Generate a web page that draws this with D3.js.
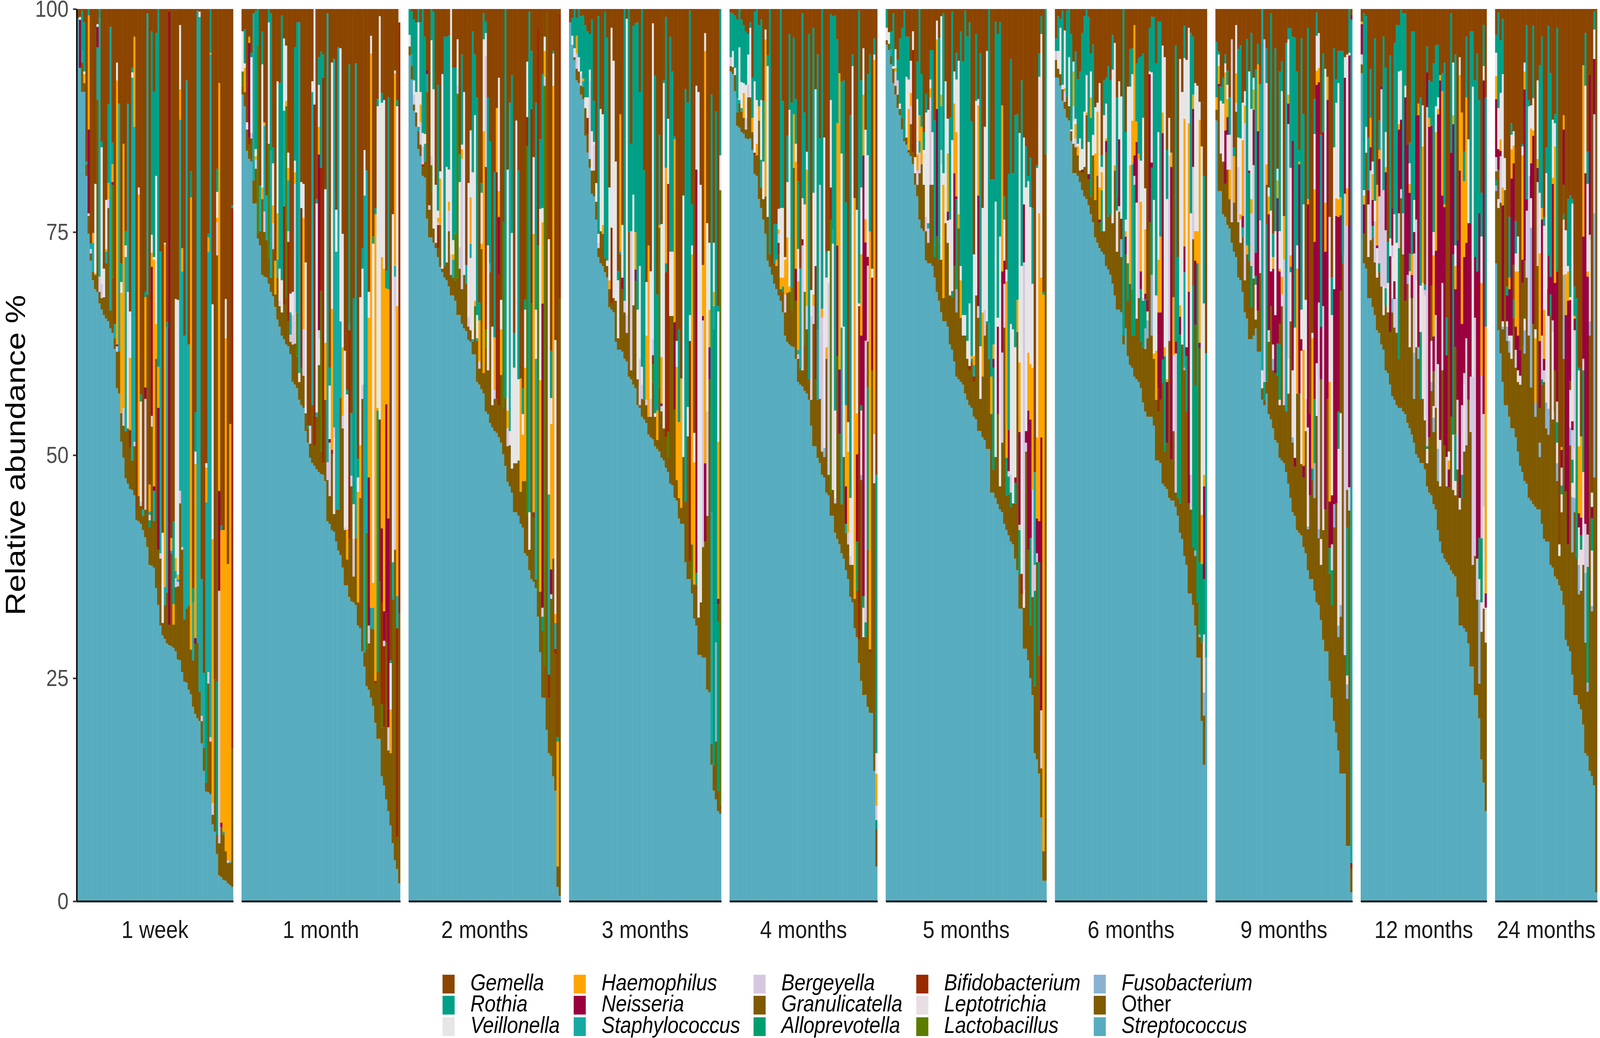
<!DOCTYPE html>
<html><head><meta charset="utf-8">
<script src="https://cdn.jsdelivr.net/npm/d3@7"></script>
<style>html,body{margin:0;padding:0;background:#fff;overflow:hidden}svg{display:block;width:100vw;height:100vh}</style>
</head><body>
<script>
// ---- DATA ----
// stacking order, bottom -> top
const taxa = ["Streptococcus","Other","Fusobacterium","Lactobacillus","Leptotrichia","Bifidobacterium","Alloprevotella","Granulicatella","Bergeyella","Staphylococcus","Neisseria","Haemophilus","Veillonella","Rothia","Gemella"];
const codes = {Sr:"Streptococcus",Ot:"Other",Fu:"Fusobacterium",La:"Lactobacillus",Le:"Leptotrichia",Bi:"Bifidobacterium",Al:"Alloprevotella",Gr:"Granulicatella",Be:"Bergeyella",St:"Staphylococcus",Ne:"Neisseria",Ha:"Haemophilus",Ve:"Veillonella",Ro:"Rothia",Ge:"Gemella"};
const legendOrder = ["Gemella","Rothia","Veillonella","Haemophilus","Neisseria","Staphylococcus","Bergeyella","Granulicatella","Alloprevotella","Bifidobacterium","Leptotrichia","Lactobacillus","Fusobacterium","Other","Streptococcus"];
const timepoints = ["1 week","1 month","2 months","3 months","4 months","5 months","6 months","9 months","12 months","24 months"];
const yTicks = [0,25,50,75,100];

// one string per sample (left to right), values in % : code+value
const w1 = ["Sr99 Ge1","Sr93.4 Ne5.4 Ve0.3 Ge0.9","Sr90.7 Ot3.3 St1.3 Ro4.5 Ge0.2","Sr90.7 Ot1 Ha1 Ve0.3 Ro5.5 Ge1.5","Sr81.3 Ot1.3 St0.3 Ge17.1","Sr74.8 Ot2 Be0.3 Ne9.4 Ha12.8 Ro0.7","Sr71.8 Ot0.8 Be0.5 St0.6 Ge26.3","Sr69.6 Ot1 St3.2 Ha1.1 Ge25.1","Sr68.6 Ot1.6 Ha0.2 Ve10 Ge19.6","Sr68.3 Ot21.5 St5.9 Ne2.3 Ve0.3 Ge1.7","Sr67 Ot1.3 Be1.7 St29 Ro1","Sr66.3 Ot1.3 Be1.6 Ve15.3 Ro0.6 Ge14.9","Sr65.7 Ot2 Ve3.2 Ge29.1","Sr65.3 Ot6.2 St1.3 Ha0.3 Ve5.5 Ge21.4","Sr65 Ot12.7 Be1 Ha1.8 Ro8.8 Ge10.7","Sr64.2 Ot2 St31.8 Ge2","Sr63.7 Ot6.2 La10.4 Ne0.3 Ha2 Ro2.4 Ge15","Sr61.9 Ot1.2 St1.6 Ge35.3","Sr57.5 Ot4.1 Be0.6 Ne0.2 Ha29.6 Ve2 Ge6","Sr56.9 Ot4.7 St27.8 Ge10.6","Sr51.5 Ot3.2 Ha13.5 Ve1.2 Ro2.1 Ge28.5","Sr49.7 Ot3.6 Be2 Ha29.6 Ge15.1","Sr47.4 Ot5.3 St19.5 Ve1.3 Ro1.6 Ge24.9","Sr46.8 Ot6.2 Le15.3 St21.1 Ge10.6","Sr46.2 Ot4.6 Bi2 Ha8.1 Ve5.2 Ge33.9","Sr46.1 Ot3.3 St42.9 Ve0.6 Ro0.5 Ge6.6","Sr45.5 Ot5.5 Be0.5 St35.3 Ha10.1 Ge3.1","Sr42.7 Ot1.3 Ge56","Sr42.6 Ot2.8 Ha33.8 Ve0.8 Ge20","Sr42.3 Ot2 Be0.5 Ve11.2 Ro0.8 Ge43.2","Sr41.6 Ot1.6 St0.7 Ge56.1","Sr40.8 Ot3.1 Be12.4 Ne1.3 Ha10.1 Ro0.6 Ge31.7","Sr39.7 Ot28.3 St31.5 Ge0.5","Sr37.7 Ot4.2 Al0.8 Be0.6 St0.4 Ha3 Ge53.3","Sr37.6 Ot15.6 Be1.2 Ne16.7 Ha1.6 Ve2 Ro22.8 Ge2.5","Sr37.4 Ot5.2 St3.4 Ne0.5 Ha25.4 Ve0.3 Ro18.5 Ge9.3","Sr35.1 Ot25.7 Ha3.9 Ve16.6 Ro16 Ge2.7","Sr33.2 Ot6.2 Ne15.9 Ha4.6 Ro40.1","Sr30.9 Ot7.5 Be0.6 St33.8 Ge27.2","Sr29.8 Ot1.4 Ve10.1 Ge58.7","Sr29.4 Ot3.8 St2 Ha38.4 Ve0.2 Ge26.2","Sr28.9 Ot5.7 St29.7 Ro0.6 Ge35.1","Sr28.7 Ot2.3 Ne68.7 Ge0.3","Sr28.6 Ot10.4 St0.3 Ha1.4 Ge59.3","Sr28.4 Ot2.6 Ha2.3 Ro9.3 Ge57.4","Sr28 Ot7.2 Be1 St0.8 Ha1.5 Ve29 Ge32.5","Sr27.1 Ot8.2 Be0.5 St0.3 Ha0.5 Ve30.8 Ge32.6","Sr27 Ot17.6 Be1.4 St41.6 Ha3.4 Ve7.2 Ge1.8","Sr25.7 Ot13.7 Be0.3 St30.9 Ha2.6 Ge26.8","Sr24.6 Ot7 St31.8 Ge36.6","Sr24.5 Ot8.3 St59.2 Ge8","Sr23.7 Ot9.4 St29.3 Ge37.6","Sr23.2 Ot5 Ha50.7 Ro2.9 Ge18.2","Sr21.8 Ot5.2 St6.5 Ro1.6 Ge64.9","Sr21 Ot7.9 Ne0.6 Ha19.5 Ve1.4 Ro4.4 Ge45.2","Sr20.5 Ot8.5 St70.8 Ge0.2","Sr20.2 Ot3.3 St75.6 Ve0.6 Ge0.3","Sr17.7 Ot2.5 Be0.6 St15.3 Ge63.9","Sr14.6 Ot2.6 St8.4 Ge74.4","Sr12.3 Ot1 Al12.4 St19 Ha3.9 Ve0.5 Ge50.9","Sr12.2 Ot12.2 Be1.3 St47.1 Ha1.6 Ro0.4 Ge25.2","Sr12 Ot5.9 Be0.5 St76.5 Ha0.2 Ro4.9","Sr8.6 Ot1.1 Be1.3 Ha29.6 Ve26.3 Ge33.1","Sr7.8 Ot17.1 Ge75.1","Sr5.3 Ot2.1 Al17.2 Gr47.8 Be3.7 Ha0.5 Ve2.9 Ro2.6 Ge17.9","Sr2.9 Ot3.6 Be28.3 Ne11.2 Ha45.7 Ge8.3","Sr2.7 Ot5.6 Ne0.5 Ha32.8 Ro0.5 Ge57.9","Sr2.4 Ot5.1 St0.3 Ha33.8 Ge58.4","Sr2.3 Ot3.3 Ha57.5 Ve4.4 Ge32.5","Sr2 Ot2.3 Be0.3 Ha33.2 Ge62.2","Sr1.8 Ot2.5 St0.1 Ha49.1 Ge46.5","Sr1.6 Ot15.6 Bi60.5 St0.3 Ge22"];

const m1 = ["Sr90.4 Ot1 La1.6 Ve4.5 Ge2.5","Sr89.1 Ot1.6 Ha2.7 Ve0.5 Ro3.8 Ge2.3","Sr84.1 Ot2.4 Ve0.8 Ge12.7","Sr83.2 Ot1.6 Bi0.8 Ne10.6 Ha0.7 Ge3.1","Sr82.9 Ot2.6 Be0.6 Ve8.5 Ro0.5 Ge4.9","Sr78.2 Ot2.6 St18.7 Ge0.5","Sr78.2 Ot3.9 Be1 Ha0.4 Ve0.8 Ro15.5 Ge0.2","Sr74.3 La21.1 Ot0.6 Ro4","Sr73.5 Ot1.6 St5.1 Ge19.8","Sr70.2 Ot8.5 Ha1.3 Ve13.8 Ro3.7 Ge2.5","Sr70 Ot5 Be2.3 St9.6 Ha0.4 Ge12.7","Sr69.9 Ot4.2 St5 Ge20.9","Sr69.2 Ot2.9 La12.8 Ve13.6 Ro1.5","Sr68.3 Ot1.6 St14.2 Ro15.4 Ge0.5","Sr67.8 Ot5.3 Be2.9 Ha2 Ve4.7 Ro1.8 Ge15.5","Sr66.6 Ot1.4 Ha3.8 Ge28.2","Sr65.2 Ot4.7 St2 Ha5.2 Ve14.8 Ge8.1","Sr64.4 Ot2.3 Be0.6 Ve3.6 Ro20.8 Ge8.3","Sr63.4 Ot2.6 Ve3.6 Ro29.7 Ge0.7","Sr63 Ot3.9 Bi11 St10.7 Ve8.1 Ge3.3","Sr62.4 Ot5.2 La21.5 Ha0.6 Ve6.2 Ge4.1","Sr62.2 Ot2.8 Bi8.9 Be1.2 St5.7 Ha1.4 Ve1.7 Ge16.1","Sr61.3 Ot1.4 Be0.8 St2.5 Ve2.1 Ge31.9","Sr58.2 Ot4.2 Be3.3 Ve2.6 Ge31.7","Sr57.9 Ot4.6 Be17.9 Ha1.3 Ve1.3 Ro12.7 Ge4.3","Sr57.5 Ot3.6 La4.9 Ro32.5 Ge1.5","Sr56.2 Ot2 Le1 St39.3 Ge1.5","Sr55.6 Ot4.2 Bi17.9 Ve2.9 Ge19.4","Sr55.3 Ot3.6 Be5.2 Ha12.5 Ve3.8 Ge19.6","Sr52.7 Ot2 Ve16.9 Ge28.4","Sr51.4 Ot1.6 Al0.3 Ge46.7","Sr49.7 Ot1.6 Be2 Ge46.7","Sr49.1 Ot6.5 St35.1 Ve1.2 Ge8.1","Sr48.8 Ot2.3 Bi38.2 Ve10.7","Sr48.4 Ot5.9 St0.5 Ve23.4 Ro0.5 Ge21.3","Sr48.1 Ot12 Le2.9 Be1 Ne19.7 Ha3.1 Ve4.7 Ro3.1 Ge5.4","Sr47.9 Ot2.6 La17.9 Bi13.8 Ro13 Ge4.8","Sr47.8 Ot1.3 Bi43.2 Ro2.6 Ge5.1","Sr47.1 Ot9.1 Ha6.4 Ve17.2 Ge20.2","Sr42.6 Ot4.6 Be2 St50.3 Ge0.5","Sr42.3 Ot3.1 Be6 Ne0.4 Ve6 Ro2 Ge40.2","Sr41.6 Ot8.5 Bi0.5 Ha15.8 Ve27.6 Ge6","Sr41.4 Ot2 Le8.5 Be1.2 St41.3 Ge5.6","Sr40.3 Ot3.6 St28.9 Ve4.7 Ge22.5","Sr39.3 Ot4.6 St51.8 Ge4.3","Sr38.8 Ot17.6 St8.6 Ve30.6 Ge4.4","Sr37.4 Ot15.6 Be1.4 Ha7.7 Ve12.7 Ge25.2","Sr35.4 Ot6.2 Be0.3 Ve19.8 Ge38.3","Sr35.4 Ot2.9 Ha3.4 Ve15.1 Ro0.5 Ge42.7","Sr34.1 Ot6.5 Bi23.4 St0.7 Ro29.1 Ge6.2","Sr33.6 Ot12.9 Be1.2 St7 Ge45.3","Sr33.5 Ot2.9 Be4.2 Ve3.9 Ro23.1 Ge32.4","Sr33.2 Ot7.5 St53.2 Ge6.1","Sr30.9 Ot2.6 Ha12.4 Ve1.6 Ro2.1 Ge50.4","Sr30.6 Ot14.6 Ha5.9 Ve16.6 Ge32.3","Sr28 Ot28.3 Be1.6 Ve13 Ro2.3 Ge26.8","Sr26.3 Ot1.6 St51.2 Ve5.1 Ge15.8","Sr24.1 Ot4.2 La13 St40.6 Ge18.1","Sr23.7 Ot5.2 Be2 Ne16.6 Ha17.9 Ve2.9 Ge31.7","Sr22.8 Ot7.8 St2.3 Ha62.1 Ve2 Ge3","Sr21.9 Ot8.6 St2.4 Ha2.8 Ve38 Ro0.8 Ge25.5","Sr20 Ot4.4 Bi0.3 Ha52.3 Ro0.7 Ge22.3","Sr18.2 Ot7.5 Al29.3 Ha0.3 Ve33.8 Ro0.8 Ge10.1","Sr18.2 Ot17.6 Bi18.2 Ve45.2 Ge0.8","Sr14 Ot5.5 La2.6 Bi11.4 Ne8.3 Ha30.4 Ve17.3 Ro1.1 Ge9.4","Sr13 Ot6.5 Bi9.1 Be0.6 Ne3.3 Ha38.4 Ve18.9 Ge10.2","Sr11.4 Ot17.6 Bi3.3 Ne23.4 Ha13 Ro2 Ge29.3","Sr10.1 Ot6.8 Be2.6 Ne23.4 Ha25.7 Ro21.5 Ge9.9","Sr8.5 Ot8.1 Ha4.9 Ve5.2 Ro0.3 Ge73","Sr6.5 Ot27.3 St4.2 Ve39 Ge23","Sr4.6 Ot34.8 Be30.6 St1.2 Ha21.6 Ve0.3 Ge6.9","Sr3.6 Ot3.6 Bi23.4 St3.6 Ha32.5 Ve22.4 Ro0.7 Ge10.2","Sr2 Ot30.2 Bi66.3 Ve1.5"];

const m2 = ["Sr94.8 Ot1 Ve1.3 Ro2.9","Sr92.1 Ot1.5 St1.3 Ro4.8 Ge0.3","Sr88.6 Ot0.7 Be1.1 Ve1.6 Ro6.8 Ge1.2","Sr86.8 Ot1.6 Ve2.3 Ro7.8 Ge1.5","Sr84.3 Ot2 St0.5 Ve11.7 Ro1.5","Sr83.5 Ot1.3 Be2.5 Ha2 Ve1.4 Ro7.8 Ge1.5","Sr81.3 Ot1 Bi0.3 Be2 Ve1.5 Ro13.9","Sr81.1 Ot1.8 St2 Ve1.1 Ro10.9 Ge3.1","Sr76.5 Ot14.2 St2 Ne0.5 Ge6.8","Sr74.4 Ot3.1 Be0.5 Ge22","Sr74.4 Ot5.2 La2.9 Be1 Ve13 Ro3.5","Sr73.8 Ot1.6 Ve15.6 Ro8.7 Ge0.3","Sr73.2 Ot0.6 Ve6.5 Ge19.7","Sr72.2 Ot1 Bi2.6 Be0.3 Ha0.5 Ve0.8 Ro14.1 Ge8.5","Sr71.1 Ot4.7 Ha5.2 Ve0.8 Ge18.2","Sr70.5 Ot0.4 Ve21.8 Ge7.3","Sr69.9 Ot1.3 Ro25.7 Ge3.1","Sr69.6 Ot2 Ve10.7 Ro14.6 Ge3.1","Sr68.9 Ot6.2 Be2.3 Ha1 Ve3.6 Ro15 Ge3","Sr67.9 Ot2.3 Be2.3 Ve27.5","Sr67.9 Ot2 St2 Ha0.6 Ve1.6 Ro19.3 Ge6.6","Sr67.3 Ot2.3 La5.2 Ro18.6 Ge6.6","Sr65.7 Ot4.2 La20.6 Be1 Ve5.1 Ge3.4","Sr65.7 Ot5.2 Be2.4 Ve7.3 Ro3.1 Ge16.3","Sr64.7 Ot3.9 Be14.6 Ha1.1 Ve0.5 Ro10.1 Ge5.1","Sr64.2 Ot6 Ve20.5 Ge9.3","Sr63.9 Ot5.3 St2.1 Ge28.7","Sr62.9 Ot1.5 Be1 Ve15.1 Ge19.5","Sr62.7 Ot1.3 Le8.1 St1.6 Ha5.2 Ve7.5 Ge13.6","Sr61.3 Ot1.4 St0.3 Ve18.7 Ro15.8 Ge2.5","Sr61.3 Ot2.8 La2.6 Ha0.6 Ve20.8 Ro6.8 Ge5.1","Sr58.2 Ot4.6 St0.3 Ve2.6 Ro24.4 Ge9.9","Sr57.9 Ot1.8 Be0.8 Ha4.6 Ro2 Ge32.9","Sr57.4 Ot15.7 Ha0.6 Ve5.7 Ro1.1 Ge19.5","Sr56.9 Ot2.3 Ha27.1 Ve10.3 Ro2.9 Ge0.5","Sr54.9 Ot7.2 La2 Bi18.2 Be12.4 Ve2.6 Ro1.3 Ge1.4","Sr54.6 Ot4.9 Ve14 Ro16.6 Ge9.9","Sr53.6 Ot16.9 St1 Ro13.7 Ge14.8","Sr53.1 Ot2.5 Ve8.8 Ge35.6","Sr52.7 Ot3.6 Be1 Ha5.9 Ro18.5 Ge18.3","Sr52.5 Ot3.8 Bi25.4 Ha7.2 Ge11.1","Sr52 Ot3.6 Bi14.6 Ne6.5 Ha2.9 Ve12.7 Ge7.7","Sr51.4 Ot7.6 Ha5.1 Ve3.3 Ge32.6","Sr50.1 Ot5.2 La20.8 Ge23.9","Sr48.8 Ot7.6 Ro43.6","Sr47 Ot4 Be2 Ha2 Ve27 Ge18","Sr46.5 Ot4.6 Le1.6 St36.8 Ge10.5","Sr45.8 Ot2.7 Ve26.4 Ro17.7 Ge7.4","Sr43.6 Ot5.5 Ve10.7 Ro3.9 Ge36.3","Sr43.6 Ot5.5 Ve38.4 Ge12.5","Sr43.2 Ot6.2 Ve9.1 Ro23.4 Ge18.1","Sr42.3 Ot3.6 Ha12.7 Ge41.4","Sr41.9 Ot5.2 Ha5.2 Ve2.3 Ro2.9 Ge42.5","Sr39 Ot8.1 Ha12.7 Ve6.5 Ro1.1 Ge32.6","Sr38.7 Ot4.6 La41.3 Bi3.3 Ve6.2 Ge5.9","Sr37.1 Ot2.3 Ve4.2 Ro56.1 Ge0.3","Sr36.1 Ot30.9 Bi21.8 Ro6.5 Ge4.7","Sr35.8 Ot7.2 Bi0.6 Ha31.2 Ve8.6 Ge16.6","Sr35.1 Ot1 St24.7 Ve5.5 Ro23.2 Ge10.5","Sr31.9 Ot2.9 La38.7 Bi24.4 Ge2.1","Sr27.9 Ot6.8 Ha23.7 Ve19.2 Ro7.8 Ge14.6","Sr22.8 Ot7.5 Al1.6 Be1 Ne34.1 Ha9.1 Ve1.6 Ro15 Ge7.3","Sr22.8 Ot3.6 La65 Be1 Ha2.9 Ve1.6 Ge3.1","Sr19.2 Ot80.3 Ge0.5","Sr16.6 Ot6.2 Bi2.6 St20.2 Ve28.6 Ge25.8","Sr16.3 Ot17.6 Be0.5 Ne2.8 Ha16.3 Ve2.9 Ro5.3 Ge38.3","Sr14 Ot24.4 Ha53 Ve3.6 Ro0.3 Ge4.7","Sr12.4 Ot15.3 Bi0.6 St2.9 Ha1 Ve30.7 Ge37.1","Sr1.6 Ot2.3 Ha14 Ro0.5 Ge81.6","Sr0.6 Ot67 Bi31.9 Ge0.5"];

const m3 = ["Sr98.5 Ge1.5","Sr96 Ve1 Ro2 Ge1","Sr94.3 Ot0.3 Ve1 Ro4.4","Sr92 Ot1.3 Be1.7 Ha2 Ro2 Ge1","Sr91.7 Ot1.3 Ve1.6 Ro5.4","Sr90.4 Ot1 Be1.3 Ve0.3 Ro6.2 Ge0.8","Sr89.9 Ot1.4 St0.6 Ha0.3 Ro7.1 Ge0.7","Sr85.8 Ot3.1 Ve1.2 Ro8.1 Ge1.8","Sr83.9 Ot2.1 Bi1.8 Ve2.3 Ro7.4 Ge2.5","Sr82.2 Ot1 Be8.8 Ve1.2 Ro4 Ge2.8","Sr79.3 Ot2.6 Ve4.4 Ro12.5 Ge1.2","Sr79 Ot2.9 Be2.9 Ve0.3 Ro4.6 Ge10.3","Sr76.4 Ot2 Ve2.1 Ge19.5","Sr72.2 Ot1 Be0.6 Ve1 Ro24.4 Ge0.8","Sr71.5 Ot3.6 Ve13.7 Ge11.2","Sr71.2 Ot3.6 Ha1 Ve12.4 Ge11.8","Sr70.5 Ot1.6 Ro27.6 Ge0.3","Sr69.9 Ot1.3 Ve0.6 Ro25 Ge3.2","Sr66.6 Ot2 Ha1 Ve10.4 Ge20","Sr66.3 Ot0.7 Bi8.5 Ve22.4 Ge2.1","Sr66 Ot1.6 Ve26.6 Ge5.8","Sr62.7 Ot4.6 Ve15.6 Ge17.1","Sr61.8 Ot1.3 Ve6.5 Ro1 Ge29.4","Sr61.8 Ot10.7 St0.3 Ha15.4 Ge11.8","Sr61.6 Ot7 Ne1.3 Ve5.9 Ge24.2","Sr60.8 Ot5.2 Be1.3 Ro32.7","Sr60.5 Ot3.2 Be2 Ve33.2 Ge1.1","Sr58.8 Ot16.3 Ro24.9","Sr58.5 Ot1 Be15.6 Ro9.8 Ge15.1","Sr57.9 Ot8.9 Ve12.4 Ro18.9 Ge1.9","Sr57.5 Ot12 Ne1.3 Ha4.2 Ro23.4 Ge1.6","Sr55.6 Ot2.9 Ve7.8 Ro32.2 Ge1.5","Sr55.3 Ot0.3 Be5.2 Ve10.4 Ro19.5 Ge9.3","Sr54.3 Ot2 Be1.6 Ve2 Ro40.1","Sr54 Ot2.2 Ro25.7 Ge18.1","Sr53.6 Ot2 Be0.6 Ha7.2 Ve6 Ge30.6","Sr52.3 Ot2 Ha19.2 Ge26.5","Sr52 Ot2.3 Be2 Ve14.3 Ge29.4","Sr51.8 Ot6.4 La2 Bi1 Be1.8 Ve35.4 Ge1.6","Sr51 Ot3.3 Ve0.4 Ro37.8 Ge7.5","Sr50.7 Ot1 Ha3.3 Ro13 Ge32","Sr50.4 Ot7.2 La17.9 Ha0.3 Ro10.1 Ge14.1","Sr49.7 Ot5.2 Be0.6 Ne0.3 Ha5.2 Ve14.9 Ge24.1","Sr49.4 Ot3.6 Ve38.7 Ro0.3 Ge8","Sr48.6 Ot3.4 Al1 Bi18.5 Ha10.7 Ro16.9 Ge0.9","Sr48.1 Ot1.6 La2.9 Bi27.8 Ve7.3 Ge12.3","Sr46.8 Ot18.8 Ve7.2 Ro24.1 Ge3.1","Sr46.6 Ot19 Ve7.2 Ro20.2 Ge7","Sr45.2 Ot9.9 Ne9.8 Ha20.5 Ro0.3 Ge14.3","Sr44.9 Ot2.3 Ha12.7 Ve2.9 Ge37.2","Sr42.9 Ot2.3 Ha8.5 Ro10.4 Ge35.9","Sr42.3 Ot1.8 Ha14.5 Ge41.4","Sr42.3 Ot7.5 Ve29.3 Ge20.9","Sr38 Ot6.8 Ro46.2 Ge9","Sr36.1 Ot16 Ve3.3 Ro34.1 Ge10.5","Sr36.1 Ot2 Bi24.7 Ve2.9 Ro34.1 Ge0.2","Sr34.5 Ot1.6 La3.9 Ha32.5 Ve1 Ro4.6 Ge21.9","Sr31.7 Ot3.8 Ha13.7 Ve3.3 Ge47.5","Sr30.9 Ot4.6 Al1.3 Ne45.2 Ve9.4 Ge8.6","Sr27.6 Ot4.2 Ve58.9 Ge9.3","Sr27.6 Ot5.9 Ve46.8 Ge19.7","Sr27.3 Ot12.4 Be25.4 Ne0.5 Ha5.7 Ge28.7","Sr27.3 Ot13 Ne8.8 Ha46.2 Ve2 Ge2.7","Sr23.7 Ot19.5 Be11.7 Ve21.1 Ge24","Sr23.4 Ot35.1 Ne3.6 Ha4.2 Ve7.5 Ge26.2","Sr15.3 Ot2.3 St26 Ro46.8 Ge9.6","Sr12.4 Ot2.9 Al48.8 St2.6 Ha1.6 Ve5.5 Ge26.2","Sr11.4 Ot6.5 Fu11.1 Ro59.5 Ge11.5","Sr10.1 Ot2.3 Al18.9 Gr2 Ne0.6 Ha17.6 Ve14.6 Ro0.6 Ge33.3","Sr9.8 Ot1 La68.9 Ve3.9 Ro16.4"];

const m4 = ["Sr93 Ot0.6 Be1 Ro5 Ge0.4","Sr92.7 Ot0.8 Ve1.8 Ro4.2 Ge0.5","Sr90.8 Ot1.8 Ve0.8 Ro5.9 Ge0.7","Sr86.9 Ot1.5 St1.6 Ro8.8 Ge1.2","Sr86.7 Ot2.7 St0.4 Ve5.9 Ro4.3","Sr86.2 Ot2.3 St0.4 Ve2.9 Ro7 Ge1.2","Sr86 Ot1.8 Ha2.8 Ve1.1 Ro6.5 Ge1.8","Sr85.5 Ot1 Be1.3 Ve3.7 Ro6 Ge2.5","Sr85.4 Ot4.7 Be1.4 Ve3.4 Ro2.3 Ge2.8","Sr85.5 Ot4.6 Ve7.8 Ro0.6 Ge1.5","Sr84.2 Ot2 Ha1.6 Ro4.5 Ge7.7","Sr81.5 Ot2.1 Bi0.3 Ve8 Ro7.8 Ge0.3","Sr81.3 Ot2.3 Ha1.3 Ve4.9 Ro10.2","Sr78.7 Ot8.8 Ha1.6 Ro9.1 Ge1.8","Sr77.7 Ot2.3 St3.1 Ve6.7 Ro9 Ge1.2","Sr76.4 Ot2.3 Ve4.2 Ro6.8 Ge10.3","Sr74.8 Ot4.2 Ha17.6 Ve1.1 Ge2.3","Sr71.8 Ot4.9 Ve16.9 Ro1.2 Ge5.2","Sr71.1 Ot1.4 Ro27.5","Sr70.2 Ot1 Ge28.8","Sr69.2 Ot2.3 Ro4.4 Ge24.1","Sr68.6 Ot2.6 Ha0.7 Ro4 Ge24.1","Sr67.9 Ot4.6 Bi1.3 Be1 Ha0.5 Ve2.3 Ge22.4","Sr67.3 Ot1.3 Ha1.3 Ve7.8 Ro22.3","Sr66 Ot2.3 Al0.6 Ha1 Ve7.8 Ro12 Ge10.3","Sr63.4 Ot2.6 Be2 Ha3.9 Ve0.3 Ge27.8","Sr62.7 Ot5.5 Ha6.2 Ve6.2 Ro5.2 Ge14.2","Sr62.4 Ot5.9 Ha0.6 Ve19.8 Ro8.5 Ge2.8","Sr62.2 Ot4.1 La2.4 Ro20.8 Ge10.5","Sr62.1 Ot20.1 Ha6 Ro8.6 Ge3.2","Sr60.8 Ot6.5 Ne3.6 Ha12 Ve2 Ro5 Ge10.1","Sr58.2 Ot2.6 Be0.5 St0.5 Ha7.7 Ve3.6 Ro7.6 Ge19.3","Sr57.9 Ot1.6 Al0.3 St11.1 Ge29.1","Sr57.7 Ot1.8 Be14 Ne0.7 Ve4.6 Ro20.7 Ge0.5","Sr57.2 Ot5.2 La5.9 Ve9.8 Ro10.3 Ge11.6","Sr56.9 Ot7.2 Be2.6 Ha15.3 Ve2 Ge16","Sr56.2 Ot2.3 Ro38.7 Ge2.8","Sr53.3 Ot2.9 Be9.4 Ve2.9 Ge31.5","Sr51 Ot13.7 Be2 Ha1.3 Ve11.4 Ro18.5 Ge2.1","Sr51 Ot7.5 Bi12.7 Ve19.8 Ge9","Sr49.7 Ot6.5 St7.8 Ro30.9 Ge5.1","Sr49.1 Ot7.2 Be24 Ro5.2 Ge14.5","Sr47.8 Ot2.6 Be15 Ha1 Ro33.6","Sr47.5 Ot2.3 Fu1 Ve34.8 Ge14.4","Sr45.8 Ot15 Ha1.3 Ve7.8 Ro2.9 Ge27.2","Sr45.5 Ot2.3 Be21.5 Ve3.6 Ge27.1","Sr43.2 Ot2.6 La30.6 Bi3.6 Ve9.8 Ro9.6 Ge0.6","Sr43.2 Ot2.9 Le27.6 St1.6 Ro23.9 Ge0.8","Sr41.3 Ot3.3 Be0.6 Ve9.8 Ro44.3 Ge0.7","Sr40.6 Ot20.5 Ne12.4 Ha13.7 Ro9.4 Ge3.4","Sr40 Ot12.4 Ne7.2 Ha33.2 Ge7.2","Sr39 Ot5.5 St19.8 Ve19.5 Ro8.1 Ge8.1","Sr38.4 Ot11.4 Ve14.6 Ro27.6 Ge8","Sr37.1 Ot4.2 St1 Ne4.2 Ha9.1 Ro22.7 Ge21.7","Sr36.1 Ot3.9 Be1.3 Ha9.1 Ve3.3 Ge46.3","Sr34.1 Ot3.6 Be1 Ve6.5 Ro42.9 Ge11.9","Sr33.5 Ot4.2 Ve55.9 Ro1.3 Ge5.1","Sr30.6 Ot3.3 Ha44.9 Ge21.2","Sr29.6 Ot5.2 Al5.5 Ne9.8 Ha4.6 Ve22.8 Ge22.5","Sr26.7 Ot2.6 Bi37.4 Ve0.3 Ro32.8 Ge0.2","Sr24.7 Ot22.5 Fu0.6 Le7.2 Al0.6 Ne7.8 Ha9.1 Ve7.5 Ro12 Ge8","Sr23.1 Ot6.5 Al1.3 Le3.3 Ne49.4 Ha6.8 Ve5.2 Ge4.4","Sr23.1 Ot6.5 Al1.6 Be31.5 Ne11 Ha2.6 Ve10 Ge13.5","Sr21.8 Ot17.6 Be8.5 Al18.2 Gr5.2 Ne1 Ve11.4 Ro9.1 Ge7.3","Sr21.1 Ot6.8 Bi0.3 Ha46.8 Ro19.8 Ge5.1","Sr21.1 Ot38.4 Ne10.4 Ve1 Ge29.1","Sr14.6 Ot32.2 Le5.5 Ha41.9 Ve0.6 Ro1.8 Ge3.3","Sr3.9 Ot4.2 Al1 Be1.6 Ha3.6 Ve2.3 Ro31.2 Ge52.2"];

const m5 = ["Sr96 Ot0.5 Ve1.4 Ro2.1","Sr95.4 Ot0.7 Ve1.3 Ge2.6","Sr93.8 Ot0.9 St0.8 Ro2 Ge2.5","Sr91.7 Ot1.6 Ve0.3 Ro5.9 Ge0.5","Sr90.4 Ot1 Be1.6 Ha0.4 Ve2.1 Ge4.5","Sr88.9 Ot1.5 Be1.6 Ro2.3 Ge5.7","Sr88.1 Ot0.7 Ve0.6 Ro7.3 Ge3.3","Sr86.5 Ot1.3 Ro10.1 Ge2.1","Sr85.2 Ot0.3 Ro14.3 Ge0.2","Sr84.8 Ot0.8 Ve6.8 Ro4.5 Ge3.1","Sr83.9 Ot0.3 Ha4.6 Ve3.3 Ro4.8 Ge3.1","Sr83.5 Ot3.6 Be2 Ha1.5 Ve3.6 Ge5.8","Sr82.6 Ot1.3 Bi11.5 Ve2.1 Ge2.5","Sr80.3 Ot1.3 Ve1.8 Ge16.6","Sr79 Ot1.3 Be1.6 Ha1.8 Ve6.2 Ro4.2 Ge5.9","Sr76.4 Ot5.2 St1.3 Be2.3 Ha2.9 Ro11.9","Sr75.4 Ot7.2 Ha4.2 Ro5.9 Ge7.3","Sr75.1 Ot5.2 Ve3.9 Ro2 Ge13.8","Sr71.8 Ot3.3 Be1.6 Ve11.7 Ro2.1 Ge9.5","Sr71.5 Ot2.3 Be1.6 St0.6 Ve12.7 Ge11.3","Sr71.5 Ot8.8 Be9.8 Ha1 Ve1 Ro3.3 Ge4.6","Sr71.2 Ot9.1 Ve5.9 Ro9.2 Ge4.6","Sr69.9 Ot2.3 Al1.3 Ro14 Ge12.5","Sr68.3 Ot6.2 Ne14.3 Ha7.8 Ve2.1 Ge1.3","Sr67.3 Ot4.6 Al2 Ro22.8 Ge3.3","Sr66 Ot5.9 Le10.7 St4.9 Be1.6 Ha1.3 Ve8.8 Ge0.8","Sr65 Ot2.6 Ha12.7 Ve1.3 Ro17.9 Ge0.5","Sr65 Ot11 Ve15.9 Ge8.1","Sr64.4 Ot9.4 Le2.5 Ne1 Ha6.5 Ve3.9 Ge12.3","Sr62.4 Ot5.5 Ve8.5 Ro11.4 Ge12.2","Sr61.8 Ot5.9 Al0.7 Ve16.9 Ro14.4 Ge0.3","Sr60.5 Ot10.7 Ne10.4 Ha7.8 Ve3.6 Ge7","Sr58.8 Ot7.2 Fu2.6 Al10.1 Ne0.3 Ha7.2 Ve5.9 Ro3 Ge4.9","Sr58.5 Ot16.9 Ha1.6 Ve17.2 Ge5.8","Sr58.2 Ot7.2 Ha4.2 Ve1.6 Ro26.3 Ge2.5","Sr57.9 Ot5.5 Ve2.3 Ro28.4 Ge5.9","Sr56.9 Ot6.5 Ve2.3 Ro34.1 Ge0.2","Sr56.2 Ot4.6 Ve2 Ro34.1 Ge3.1","Sr55.6 Ot3.9 Bi0.5 Ve7 Ro31.5 Ge1.5","Sr55.3 Ot5.2 Al0.3 Ha0.3 Ro26.3 Ge12.6","Sr54.3 Ot3.9 Bi0.6 St1.3 Ha1 Ve11.4 Ge27.5","Sr54 Ot13.9 Ve21.8 Ro7.5 Ge2.8","Sr52.7 Ot12.7 Be1.3 Ne12.4 Ha10.1 Ve0.7 Ge10.1","Sr52.7 Ot3.6 Ve5.9 Ro32.8 Ge5","Sr52 Ot6.8 Ha7.2 Ve11.7 Ge22.3","Sr51.7 Ot11.7 Be2.9 Ve20.5 Ge13.2","Sr50.7 Ot14 Al0.3 Ve30.3 Ge4.7","Sr50.7 Ot10.1 St3.9 Ro35.3","Sr45.8 Ot8.8 Ha4.2 Ro22.1 Ge19.1","Sr45.8 Ot2.6 Al11.4 Ne1 Ha1.6 Ro18.5 Ge19.1","Sr45.2 Ot4.6 Ve28.6 Ro20.2 Ge1.4","Sr44.5 Ot10.1 Ne9.8 Ve1 Ro31.8 Ge2.8","Sr43.9 Ot2.6 Ve28 Ro24 Ge1.5","Sr43.6 Ot7.8 Be10.1 Ne9.1 Ha18.6 Ge10.8","Sr42.3 Ot22 Be4.9 Ne2.6 Ve4.6 Ro2.6 Ge21","Sr41.6 Ot3.9 Al4.2 Ha19.8 Ve1.3 Ge29.2","Sr41 Ot4.6 Al2 Be0.6 Ne4.6 Ro28.7 Ge18.5","Sr40.3 Ot3.9 Al1.6 Be2 Ve16.9 Ro29.7 Ge5.6","Sr40 Ot4.6 Ve19.5 Ro17.5 Ge18.4","Sr38.4 Ot6.2 Al2.3 Ne0.6 Ve14.6 Ro26 Ge11.9","Sr37.1 Ot26.7 Ha3.6 Ro20.8 Ge11.8","Sr32.8 Ot3.9 Al4.9 Be0.6 Ne10.4 Ha7.8 Ve25.7 Ge13.9","Sr32.8 Ot1.6 Bi2.3 Ve34.5 Ro20.8 Ge8","Sr28.3 Ot4.6 Le2 Be36.7 Ne6.5 Ve7.5 Ge14.4","Sr28.3 Ot22.1 Be1 Ne1.3 Ve27.3 Ro4.6 Ge15.4","Sr27 Ot12.4 Ne15.6 Ha6.5 Ve19.2 Ro0.6 Ge18.7","Sr25 Ot5.9 Al9.8 Ne13.3 Ha6.2 Ve17.6 Ro5.5 Ge16.7","Sr23.1 Ot11 Be12 Ha13.7 Ve9.4 Ro8.5 Ge22.3","Sr16.6 Ot7.5 Al10.7 Be2.9 St10.4 Ge51.9","Sr15.9 Ot22.1 Be1 Ne3.9 Ha9.1 Ve30.2 Ro0.3 Ge17.5","Sr14.3 Ot13.3 Al10.4 Ne4.6 Ha34.5 Ve15.3 Ro2.6 Ge5","Sr9.4 Ot5.5 Be6.5 Ne30.6 Ha17.9 Ve27.3 Ro2 Ge0.8","Sr2.3 Ot3.3 Ha62.4 Ro0.3 Ge31.7","Sr2.3 Ot81.4 Ro16.3"];

const m6 = ["Sr92.3 Ot2 Be1 Ro1.4 Ge3.3","Sr92.3 Ot1 Ve2 Ro3.9 Ge0.8","Sr91.4 Ot1.3 Ve5.2 Ro1 Ge1.1","Sr89.7 Ot1.3 Ve0.5 Ro8.3 Ge0.2","Sr88.8 Ot0.8 Be1.2 Ha0.3 Ve6.5 Ge2.4","Sr87.8 Ot2.4 Ro9.6 Ge0.2","Sr87.5 Ot1.6 Ve5.5 Ro5.4","Sr85.2 Ot1.1 Ve0.2 Ro10.7 Ge2.8","Sr81.6 Ot3.3 Le2.6 Be1.6 Ha3.9 Ve1.1 Ge5.9","Sr81.6 Ot2.9 Be1 Ha1.6 Ve0.6 Ro7.5 Ge4.8","Sr81.3 Ot2.3 Ha1 Ve0.3 Ro7.2 Ge7.9","Sr80.6 Ot1.3 Ve3.6 Ro7.5 Ge7","Sr79.7 Ot2 Ne0.3 Ve2.3 Ro13 Ge2.7","Sr79 Ot3.3 Ve6.2 Ro10.7 Ge0.8","Sr78.7 Ot9.4 Ha0.3 Ve4.2 Ro7.3 Ge0.1","Sr78 Ot2.9 Ne0.6 Ve3.6 Ro14 Ge0.9","Sr77 Ot2 Al8.8 Ha2.3 Ve2.9 Ro2 Ge5","Sr76.1 Ot7.5 Ve2.3 Ro10.1 Ge4","Sr74.4 Ot4.2 Ha5.2 Ve5.2 Ge11","Sr73.8 Ot7.5 Ha7.2 Ve1 Ge10.5","Sr73.2 Ot2.9 Ne0.3 Ha3.6 Ve11.7 Ge8.3","Sr72.8 Ot2.3 Al4.6 Ha2 Ve0.6 Ro1.3 Ge16.4","Sr72.5 Ot2.6 Ve13 Ro3.9 Ge8","Sr71.2 Ot12.7 Ne1.3 Ha0.3 Ve3.9 Ro2.9 Ge7.7","Sr70.8 Ot5.9 Ro16.9 Ge6.4","Sr70.2 Ot6.8 Ro15 Ge8","Sr69.2 Ot6.8 Ve17.2 Ro3.9 Ge2.9","Sr67.9 Ot14 Ha0.6 Ve13.7 Ge3.8","Sr66.3 Ot6.5 Le4.6 Al1.6 Ro11.1 Ge9.9","Sr66.3 Ot11 Be0.6 Ne7.5 Ve6.5 Ge8.1","Sr66 Ot6.2 Fu2 Bi2.3 Ve13.7 Ge9.8","Sr62.4 Ot1 Ro36.6","Sr64.2 Ot8.3 Ne2 Ha0.6 Ve1.3 Ro9.8 Ge13.8","Sr61.1 Ot6.2 Al4.2 Ve19.8 Ge8.7","Sr60.1 Ot9.1 Ha13.3 Ve8.8 Ro4.2 Ge4.5","Sr59.8 Ot3.6 Al5.2 St14 Ha4.9 Ve5.2 Ro2.9 Ge4.4","Sr58.8 Ot4.6 Al16.9 Ne2.3 Be1 Ha14.6 Ge1.8","Sr58.5 Ot6.8 Le13 Ne6.8 Ha2.3 Ro6.5 Ge6.1","Sr58.2 Ot9.4 Be15.6 Ha0.6 Ro10.7 Ge5.5","Sr57.5 Ot5.2 Al5.9 Ne2 Ha7.8 Ve4.6 Ro11.7 Ge5.3","Sr55.9 Ot6.2 Al5.2 Be0.3 Ve20.2 Ro7.2 Ge5","Sr54.9 Ot7 Fu2.3 Al3.3 Ne0.6 Ha7.2 Ve4.6 Ge20.1","Sr54.3 Ot8.8 Fu2 Le1 Ne1.3 Ge32.6","Sr54.3 Ot21.8 Ne16.6 Ve0.3 Ro4.9 Ge2.1","Sr54.3 Ot9.1 Fu6.8 Al12 Ne0.6 Ve10.1 Ro6.2 Ge0.9","Sr53.3 Ot7.5 Ha0.6 Ve17.2 Ro20.5 Ge0.9","Sr49.4 Ot6.8 Ha5.5 Ve6.2 Ro26 Ge6.1","Sr49.4 Ot5.5 Bi2.6 Ne8.5 Ha5.9 Ve14.3 Ro12.4 Ge1.4","Sr49.1 Ot7.1 Ne9.8 Ha8.5 Ro24.1 Ge1.4","Sr46.8 Ot11.3 Al2.6 Ne25.4 Ha2.3 Ve7.5 Ge4.1","Sr46.5 Ot3.9 Al10.7 Ha1 Ve32.5 Ge5.4","Sr46.2 Ot5.2 Ne6.8 Ha0.3 Ve20.2 Ro5.5 Ge15.8","Sr45.2 Ot17.6 Be20.8 Ve4.2 Ge12.2","Sr44.9 Ot4.6 Ne32.8 Ha1.6 Ge16.1","Sr44.9 Ot7.8 Le8.5 Ha6.5 Ge32.3","Sr44.2 Ot1.6 Be15.6 Ne1.3 Ro33.2 Ge4.1","Sr43.2 Ot2 Al18.2 Ro8.8 Ge27.8","Sr41.3 Ot3.3 Al18.9 Ne2 Ha1.3 Ve27.6 Ge5.6","Sr40.6 Ot21.8 Ve28.3 Ge9.3","Sr38.7 Ot20.8 Fu0.3 St10.7 Ne2.9 Ha14.3 Ve6.8 Ro3.6 Ge1.9","Sr37.7 Ot17.2 Al6.2 Ne1 Ve32.2 Ge5.7","Sr34.5 Ot10.1 Ne23.7 Ha18.9 Ve10.7 Ge2.1","Sr34.5 Ot9.4 Be3.9 Ve29.3 Ro20.2 Ge2.7","Sr33.2 Ot6.5 Be8.1 Al29.3 Gr5.2 Ne6.5 Ha1.6 Ro6.5 Ge3.1","Sr30.9 Ot7.8 Fu0.6 Al18.5 Gr6.8 Ne7.2 Ha3.3 Ve16.6 Ge8.3","Sr27.3 Ot6.2 Al38 Ha3.6 Ve16.3 Ge8.6","Sr27.3 Ot2.3 Fu0.3 Al8.1 Gr24 Ne0.6 Ha25 Ve2 Ge10.4","Sr20.2 Ot8.8 Al8.8 Ha5.5 Ve41.3 Ge15.4","Sr15.3 Ot5.5 Le6.5 Fu2.6 Al6.2 Ne10.4 Ha1.3 Ve19.2 Ro14.3 Ge18.7","Sr27.3 St34.1 Ge38.6"];

const m9 = ["Sr87.5 Ot1.2 Ha1.4 Ro6.2 Ge3.7","Sr79.6 Ot11.7 Ne0.3 Ha2 Ve1.3 Ro0.3 Ge4.8","Sr79.6 Ot4.2 Ve5.9 Ro1.6 Ge8.7","Sr77 Ot5.9 Ve6.5 Ro2.9 Ge7.7","Sr76.7 Ot3.7 Ne6 Ha6.5 Ve1 Ro1 Ge5.1","Sr75.8 Ot6.2 Le3.9 Ne2 Ha2 Ve1.6 Ro1.6 Ge6.9","Sr75.4 Ot3.3 Ha3.3 Ve3.9 Ro4.2 Ge9.9","Sr73.8 Ot2.3 Be20.5 Ge3.4","Sr72.8 Ot5.5 Ha5.2 Ro1 Ge15.5","Sr72.2 Ot16.3 Be1 Ha3.3 Ve5.4 Ge1.8","Sr69.9 Ot6.2 Be6.2 Ve3.3 Ro9.9 Ge4.5","Sr69.6 Ot4.2 Le2.6 Ha0.6 Ve8.5 Ro10.4 Ge4.1","Sr68.3 Ot6.2 St1 Ne1.3 Ha8.5 Ve4.2 Ge10.5","Sr66 Ot3.6 Be17.6 Ha2 Ve1.6 Ge9.2","Sr65.3 Ot7.2 Ha1 Ro23.1 Ge3.4","Sr63 Ot8.8 Al9.8 Ne0.3 Ve11.1 Ge7","Sr63 Ot3.6 Al4.6 Be5.9 Ha1.6 Ve10.1 Ro8.5 Ge2.7","Sr63.4 Ot6.4 Be12.7 Ne6.2 Ha2.3 Ve1.3 Ge7.7","Sr64.2 Ot1 Al1 Le3.9 Ne2.6 Ro20.5 Ge6.8","Sr61.6 Ot4.6 Ne20.1 Ha7.5 Ro2.3 Ge3.9","Sr61.6 Ot8.8 Le5.9 St15.3 Ge8.4","Sr56.2 Ot1.3 Le2 St40.5","Sr55.6 Ot0.6 Al2 Be38.4 Ge3.4","Sr56.9 Ot1.3 Al17.7 Gr4.4 Ha2.3 Ve9.1 Ro3.9 Ge4.4","Sr54.6 Ot8.1 Be1.3 Ne13 Ha2 Ve1 Ge20","Sr54 Ot12.7 Ne3.9 Ve6.8 Ro22.1 Ge0.5","Sr53 Ot6.5 Fu1.3 Le1.6 Ne8.5 Ha1.3 Ro2.6 Ge25.2","Sr51.7 Ot7.5 Ne6.5 Ve9.4 Ro20.5 Ge4.4","Sr51.4 Ot7.5 Al3.6 Ne16.3 Ha2 Ve1.3 Ge17.9","Sr49.7 Ot5.9 Le0.6 Al6.2 Gr2.3 Ne5.9 Ha0.3 Ve4.2 Ro17.9 Ge7","Sr49.4 Ot17.3 Le1.3 Ha2 Ve20.8 Ro3.3 Ge5.9","Sr49.1 Ot6.5 Be16.3 Ha4.9 Ge23.2","Sr48.1 Ot6.8 St41.3 Ge3.8","Sr46.8 Ot10.1 Le3.9 Be26.3 Ne2.3 Ha1 Ve6.2 Ro1.3 Ge2.1","Sr45.2 Ot19.8 Al0.6 Le5.5 Ha1.3 Ve9.8 Ro15.6 Ge2.2","Sr43.6 Ot7.8 Fu0.6 Le7.5 Ne25.7 Ro11.7 Ge3.1","Sr43.2 Ot5.5 Ne1 Ve14.6 Ro32.5 Ge3.2","Sr41.6 Ot15.3 Ha14 Ve2.6 Ro19.5 Ge7","Sr41.3 Ot15.6 Ne25.7 Ha0.3 Ro1.3 Ge15.8","Sr41 Ot8 Le12.7 Ne1.3 Ve3.3 Ro30.4 Ge3.3","Sr39.7 Ot7.8 Ne1.3 Ha13 Ve16.3 Ro10.1 Ge11.8","Sr39 Ot13.7 Le3.6 Ve11.1 Ge32.6","Sr37.1 Ot4.6 Fu0.3 Le11.1 Ne25 Ha0.6 Ro19.2 Ge2.1","Sr36.1 Ot9.4 Ne9.1 Ge45.4","Sr36.1 Ot11.1 Al1.3 Ha14.6 Ve0.6 Ge36.3","Sr34.8 Ot10.4 Fu3.9 Al7.2 Ne17.6 Ha5.9 Ve6.2 Ro3.9 Ge10.1","Sr33.5 Ot20.9 Le5.9 Ne31.2 Ha1.6 Ve3.9 Ro2.6 Ge0.4","Sr33.2 Ot7.5 Fu1 Be25.4 Ne24.7 Ha1.6 Ve3.9 Ge2.7","Sr31.5 Ot6.2 Le2.9 Gr17.9 Ne5.9 Ro21.5 Ge14.1","Sr29.3 Ot12.3 Le2.3 Be22.8 Ne19.5 Ro8.8 Ge5","Sr28 Ot15.9 Ne28.9 Ha5.5 Ve15 Ge6.7","Sr28 Ot28.3 Ne33.5 Ha2.6 Ge7.6","Sr24.7 Ot12 Al2.9 Ne5.2 Ha13.4 Ve18.5 Ge23.3","Sr22.8 Ot10.4 Al3.9 Be2.9 Ne5.5 Ve20.2 Ro4.2 Ge30.1","Sr20.2 Ot21.7 Fu2.6 Ne24.1 Ve15.9 Ro11.1 Ge4.4","Sr18.9 Ot25.7 Ne32.2 Ha2 Ve10.7 Ro2.6 Ge7.9","Sr16.9 Ot12.7 Fu1.3 Le19.8 Al4.2 Ne21.8 Ha2 Ve13 Ro3.6 Ge4.7","Sr14.3 Ot17.6 Fu1.3 Le21.5 Gr13.7 Ne8.5 Ha2 Ro16.4 Ge4.7","Sr14.3 Ot57.2 Al1 Ro22.8 Ge4.7","Sr14.3 Ot13.3 Be51.7 Ne13 Ve2.3 Ge5.4","Sr6.2 Ot16.5 Fu1.6 Le1 Al16.6 Gr4.2 Be29.6 Ha4.2 Ve15 Ge5.1","Sr6.2 Ot37.6 Be2.6 Ne48.4 Ve0.3 Ro4.9","Sr1 Ot2.6 Bi0.7 St94.5 Ne0.5 Ge0.7"];

const m12 = ["Sr92.8 Ot1 Be1.1 Ne3.4 Ha0.3 Ge1.4","Sr71.5 Ot3.3 Ne3.3 Ha1 Ve0.6 Ro19.8 Ge0.5","Sr70.9 Ot9.4 Gr3.6 Ve2.9 Ro12.4 Ge0.8","Sr67.6 Ot4.6 Le5.9 Ne1.6 Ro5.9 Ge14.4","Sr67.6 Ot6.5 Be7.8 Ne2.6 Ha3.3 Ro5.5 Ge6.7","Sr66.6 Ot7.8 Al1.3 Ne2.9 Ha2.9 Ve1.4 Ge17.1","Sr65.7 Ot5.9 Be4.6 Ve2.3 Ro18.2 Ge3.3","Sr64 Ot5.9 Le3.3 Ne0.3 Ha6.8 Ge19.7","Sr63.7 Ot6.8 Al1 Be7.5 Ne4.2 Ha1 Ro3.3 Ge12.5","Sr62.4 Ot6.5 Be22.1 Ne0.4 Ge8.6","Sr61.8 Ot3.9 Le3.3 Be10.7 Ro17.2 Ge3.1","Sr59.5 Ot7.2 Al2 Be6.5 Ne6.5 Ha0.6 Ve3.9 Ro7.2 Ge6.6","Sr59.2 Ot6.8 Ve3.3 Ro4.6 Ge26.1","Sr57.9 Ot5.9 Ne8.5 Ve2 Ro20.5 Ge5.2","Sr56.6 Ot9.4 Fu1.6 Be1.3 Le4.6 Ne4.2 Ge22.3","Sr56.2 Ot8.1 Be3.2 Ne2 Ve7.5 Ro19.2 Ge3.8","Sr55.6 Ot8.1 Be3.9 Ve6.2 Ro24.4 Ge1.8","Sr55.3 Ot5.5 Al12.4 Be3.9 Ne9.4 Ha0.6 Ve5.9 Ro5.2 Ge1.8","Sr55.3 Ot23.5 Be1 Ne7.8 Ve5.5 Ro6.8 Ge0.1","Sr54.9 Ot17.6 Be4.6 Ro22.4 Ge0.5","Sr54.6 Ot12.7 Ne22.8 Ve1.3 Ro8.1 Ge0.5","Sr53.6 Ot15.6 Fu1 Ne14.6 Ge15.2","Sr53 Ot9.1 Le8.5 Al2 Ne6.8 Ha1 Ve2.3 Ro2.3 Ge15","Sr52.3 Ot15.3 Ne2.6 Ha2.3 Ro25 Ge2.5","Sr51.4 Ot4.9 Fu5.2 Be11.1 Ne2.4 Ve3.6 Ro18.9 Ge2.5","Sr50.1 Ot12 Le7.5 Be6.8 Ne11.7 Ge11.9","Sr49.7 Ot11.1 Fu1.3 Ne26 Ha1.3 Ge10.6","Sr49.1 Ot7.2 Al7.5 Ve5.2 Ro21.1 Ge9.9","Sr49.1 Ot7.2 Le13 Ha15.3 Ve4.6 Ge10.8","Sr48.4 Ot5.5 Be0.6 Le14 St0.6 Ge30.9","Sr46.5 Ot2.6 Le1.6 Al0.3 Be38 Ne3.9 Ro2.9 Ge4.2","Sr45.8 Ot6.2 Ne34.8 Ha1 Ro4.2 Ge8","Sr45.5 Ot11.7 Fu1 Le4.6 Gr6.2 Ne17.9 Ro4.9 Ge8.2","Sr44.5 Ot8.1 Fu1.6 Le1.3 Gr3.9 Ne3.9 Ha9.1 Ve2.6 Ro18.9 Ge6.1","Sr43.9 Ot11.4 Be10.4 Ne7.2 Ha13.3 Ve2.9 Ro6.8 Ge4.1","Sr41.6 Ot5.5 Le9.5 Fu3.6 Ne28 Ha0.6 Ve1.3 Ro5.9 Ge4","Sr40.3 Ot6.2 Le5.2 Ne40.3 Ha0.6 Ge7.4","Sr39 Ot20.5 Be9.8 Ne9.8 Ha11.7 Ro2 Ge7.2","Sr38.4 Ot12.7 Ne26.7 Ha0.3 Ro15.9 Ge6","Sr38 Ot8.5 Be3.3 Ne11.4 Ro4.2 Ge34.6","Sr37.7 Ot8.7 Ne2 Ha1 Ve1 Ge49.6","Sr37.1 Ot17.2 Ne29.6 Ro15.6 Ge0.5","Sr36.7 Ot9.4 Le6.2 Al20.2 Ne14.6 Ha1 Ve5.9 Ge6","Sr36.4 Ot9.1 Le1.6 Al5.2 Gr9.8 Ne6.5 Ha2.6 Ve2.3 Ro21.4 Ge5.1","Sr34.1 Ot14.3 Be7.8 Ne17.9 Ge25.9","Sr30.9 Ot13 Le1.3 Ne36.7 Ha10.7 Ve2 Ge5.4","Sr30.9 Ot14.3 Be7.8 Al2.6 Ne9.1 Ha23.7 Ge11.6","Sr30.6 Ot19.8 Le7.5 Be1.3 Ne13 Ha8.5 Ro3.3 Ge16","Sr30.2 Ot20.9 Be12 Ne10.7 Ha16.3 Ro6.8 Ge3.1","Sr28.9 Ot27.3 Ne19.8 Ve9.4 Ge14.6","Sr26.3 Ot26.3 Be6.2 Ne17.2 Ro21.5 Ge2.5","Sr26.3 Ot11.4 Be21.1 Ve32.5 Ro6.2 Ge2.5","Sr23.1 Ot15.6 Be26.7 Ne6.8 Ro19.8 Ge8","Sr23.1 Ot10.7 Be4.6 Ne32.2 Ro24.4 Ge5","Sr20.5 Ot3.9 Fu9.4 Le2.3 Al4.6 Ne36.4 Ro12.7 Ge10.2","Sr15.9 Ot14.3 Le3.3 Al7.2 Be18.2 Ha10.4 Ve5.2 Ro4.9 Ge20.6","Sr13.3 Ot19.5 Le11.4 Be10.4 Ne37.4 Ve1.6 Ro4.6 Ge1.8","Sr10.1 Ot18.9 Le3.9 Ne1.6 Ha29.9 Ro25.7 Ge9.9"];

const m24 = ["Sr71.5 Ot8.1 Fu0.6 Al0.6 Gr1 Be1.6 Ne6.5 Ha2.6 Ve2.6 Ro2 Ge2.9","Sr64 Ot13.7 Le1 Gr3.3 Ne2.3 Ve4.6 Ro10.7 Ge0.4","Sr61.4 Ot16.9 Be5.2 Ne0.6 Ha1.3 Ve5.2 Ro5.9 Ge3.5","Sr58.2 Ot5.9 Fu0.3 Le0.6 Ne13 Ha2 Ve12.7 Ro6.2 Ge1.1","Sr55.6 Ot24.1 Ve3.6 Ge16.7","Sr55.6 Ot7.2 Fu1.6 Le0.6 Ne2.9 Ro1 Ge31.1","Sr54.3 Ot7.2 Fu1.3 Le0.6 Ne5.2 Ha1.3 Ro6.8 Ge23.3","Sr53 Ot7.8 Le2.6 Ne17.6 Ha3.3 Ve1.6 Ro1.3 Ge12.8","Sr53 Ot12.4 Al2 Gr3.9 Ne11.4 Ha2 Ve1.6 Ge13.7","Sr52 Ot7.8 Be2 Ne2.6 Ha6.2 Ve2 Ro3.6 Ge23.8","Sr50.4 Ot7.8 Le1.3 Ne3.9 Ha7.2 Ve3.9 Ge25.5","Sr48.8 Ot9.1 Le1 Ne2.9 Ge38.2","Sr48.1 Ot14 Gr7.2 Ne2.6 Ha11.7 Ve1 Ro0.3 Ge15.1","Sr47.1 Ot14.3 Fu2.6 Le1.3 Gr6.5 Ne19.2 Ha2 Ve1 Ge6","Sr46.8 Ot23.1 Be7.5 Ne1.3 Ro19.5 Ge1.8","Sr45.2 Ot18.2 Be17.9 Ve7.8 Ro0.7 Ge10.2","Sr44.9 Ot12.7 Le3.3 Fu17.9 Ne3.9 Ha3.9 Ve2.6 Ge10.8","Sr44.5 Ot20.2 Ne21.1 Ha0.6 Ve3.6 Ro8.1 Ge1.9","Sr44.2 Ot10.1 Fu1.6 Ha7.2 Ve1 Ge35.9","Sr43.9 Ot27.3 Be9.4 Ne1.6 Ha1 Ve8.8 Ge8","Sr43.9 Ot5.9 Fu1.6 Gr3.9 Ne7.5 Ha9.8 Ve6.8 Ro14.3 Ge6.3","Sr42.3 Ot15.6 Al0.6 Be4.9 Ne13 Ha1.3 Ro19.2 Ge3.1","Sr40.6 Ot17.6 Be1.3 Ne1.3 Ha5.5 Ve9.4 Ro1 Ge23.3","Sr40.3 Ot12.7 Le12.7 Fu2.9 Ve13 Ro2.9 Ge15.5","Sr40.3 Ot12 Fu2.9 Le10.4 Ne6.8 Ro25.7 Ge1.9","Sr37.7 Ot28 Al2.3 Ne2 Ro22.8 Ge7.2","Sr37.4 Ot16.6 Le9.8 Be1.3 Ne15.3 Ha0.7 Ve6.5 Ge12.4","Sr36.4 Ot18.5 Gr4.6 Ne9.8 Ha15.3 Ve2.6 Ro1 Ge11.8","Sr36.1 Ot11 Fu2 Le2.3 Al2.3 Be2.3 Ne14.6 Ro27.3 Ge2.1","Sr35.4 Ot3.3 Ve1.3 Ge60","Sr34.8 Ot8.8 Al1 Be2 Le2 Ne2 Ha0.3 Ge49.1","Sr33.2 Ot27.6 Fu9.4 Le6.2 Al0.6 Gr3.3 Ne6.2 Ha1.6 Ge11.9","Sr29.3 Ot16.6 Ne19.8 Ha4.6 Ve4.9 Ge24.8","Sr28.6 Ot11.4 Ne27.3 Ha3.3 Ve0.6 Ro7.5 Ge21.3","Sr28 Ot23.1 Fu2 Le4.2 Gr1 Ne9.1 Ve0.3 Ro11.4 Ge20.9","Sr25.4 Ot13.7 Fu6.2 Le1.6 Al2.6 Be3.3 Ne1 Ve24.4 Ro0.5 Ge21.3","Sr23.1 Ot20.5 Fu1.6 Le5.5 Be13.3 Ne1.3 Ha0.3 Ro3.3 Ge31.1","Sr23.1 Ot15.3 Al28.9 Ro0.3 Ge32.4","Sr22.1 Ot12.3 Fu3.3 Le4.2 Ne1.6 Ha7.5 Ve8.5 Ro0.3 Ge40.2","Sr21.5 Ot13.3 Al1.6 Le4.6 Ne2 Ha9.1 Ge47.9","Sr19.8 Ot17.9 Le10.4 Al11.4 Be1.3 Ne13.7 Ha19.2 Ge6.3","Sr16.6 Ot12.4 Fu7.8 Be5.5 Ne39.3 Ve9.8 Ro5.9 Ge2.7","Sr16.3 Ot7.2 Fu1 Al13 Be3.6 Ne28.9 Ha0.6 Ve9.8 Ro3.6 Ge16","Sr14.6 Ot48.8 Fu1.6 Le9.1 Be0.6 Ne17.9 Ge7.4","Sr14 Ot18.5 Fu0.6 Le6.2 Al3.6 Ne1.3 Ve1.6 Ge54.2","Sr13 Ot34.5 Fu29.6 Be11.1 Ne6.2 Ve3.3 Ro2 Ge0.3","Sr1 Ot98.8 Ge0.2"];

const panelData = [w1, m1, m2, m3, m4, m5, m6, m9, m12, m24];

// ---- STYLE ----
const COL = {
  Gemella:"#8B4500", Rothia:"#00A087", Veillonella:"#E6E6E6", Haemophilus:"#FFA500",
  Neisseria:"#99003D", Staphylococcus:"#17A9A1", Bergeyella:"#D6C7E0", Granulicatella:"#7F5A00",
  Alloprevotella:"#009E6F", Bifidobacterium:"#992B00", Leptotrichia:"#E9DEE3", Lactobacillus:"#5B7C00",
  Fusobacterium:"#8AB1D2", Other:"#7F5A00", Streptococcus:"#57ADBF"
};
const FONT = "'Liberation Sans', Arial, Helvetica, sans-serif";
const W = 4769, H = 2657;
const plotL = 228.5, plotR = 4761, gap = 24.5, yTop = 23, yBot = 2307;

function parseBar(s){
  const o = {};
  taxa.forEach(t => o[t] = 0);
  for (const m of s.matchAll(/([A-Z][a-z])([\d.]+)/g)) o[codes[m[1]]] += +m[2];
  return o;
}

// fixed 4769 x 2657 drawing space, stretched to fill the whole window
const svg = d3.select("body").append("svg")
  .attr("viewBox", `0 0 ${W} ${H}`)
  .attr("preserveAspectRatio", "none")
  .attr("font-family", FONT);

const y = d3.scaleLinear().domain([0, 1]).range([yBot, yTop]);
const stack = d3.stack().keys(taxa).value((d, k) => d[k]).offset(d3.stackOffsetExpand);

const total = d3.sum(panelData, p => p.length);
const bw = (plotR - plotL - gap * (panelData.length - 1)) / total;

let x0 = plotL;
panelData.forEach((bars, k) => {
  const rows = bars.map(parseBar);
  const w = rows.length * bw;
  const xs = d3.scaleBand().domain(d3.range(rows.length)).range([x0, x0 + w]).padding(0);
  const series = stack(rows);
  const g = svg.append("g");
  g.selectAll("g").data(series).join("g").attr("fill", s => COL[s.key])
    .selectAll("rect")
    .data(s => s.map((d, i) => ({d, i})).filter(o => o.d[1] - o.d[0] > 1e-6))
    .join("rect")
    .attr("x", o => xs(o.i))
    .attr("width", o => o.i === rows.length - 1 ? xs.bandwidth() : xs.bandwidth() + 0.6)
    .attr("y", o => y(o.d[1]))
    .attr("height", o => y(o.d[0]) - y(o.d[1]));

  // bottom axis line of panel
  svg.append("g").attr("transform", `translate(0,${yBot})`)
    .call(d3.axisBottom(xs).tickValues([]).tickSizeOuter(0))
    .call(a => a.select(".domain").attr("stroke", "#000").attr("stroke-width", 4.3));

  // strip label (below panel)
  svg.append("text").attr("x", x0 + w / 2).attr("y", 2401)
    .attr("text-anchor", "middle").attr("font-size", 63).attr("fill", "#1A1A1A")
    .text(timepoints[k]);

  x0 += w + gap;
});

// y axis
const yAxis = svg.append("g").attr("transform", `translate(${plotL},0)`)
  .call(d3.axisLeft(y).tickValues(yTicks.map(v => v / 100)).tickFormat(v => Math.round(v * 100))
    .tickSize(11).tickPadding(13).tickSizeOuter(0));
yAxis.select(".domain").attr("stroke", "#000").attr("stroke-width", 4.3);
yAxis.selectAll(".tick line").attr("stroke", "#333333").attr("stroke-width", 4);
yAxis.selectAll(".tick text").attr("font-size", 60).attr("fill", "#4D4D4D").attr("font-family", FONT);

// y title
svg.append("text").attr("transform", `translate(75,${(yTop + yBot) / 2}) rotate(-90)`)
  .attr("text-anchor", "middle").attr("font-size", 82).attr("fill", "#000")
  .text("Relative abundance %");

// legend (3 rows, column-major)
const keyX = [1319, 1710, 2246, 2731, 3260];
const rowTop = [2495, 2549, 2604];
const leg = svg.append("g");
legendOrder.forEach((name, i) => {
  const c = Math.floor(i / 3), r = i % 3;
  leg.append("rect").attr("x", keyX[c]).attr("y", rowTop[r]).attr("width", 36).attr("height", 48)
    .attr("fill", COL[name]);
  leg.append("text").attr("x", keyX[c] + 83).attr("y", rowTop[r] + 40)
    .attr("font-size", 59).attr("fill", "#000")
    .attr("font-style", name === "Other" ? "normal" : "italic")
    .text(name);
});
</script>
</body></html>
